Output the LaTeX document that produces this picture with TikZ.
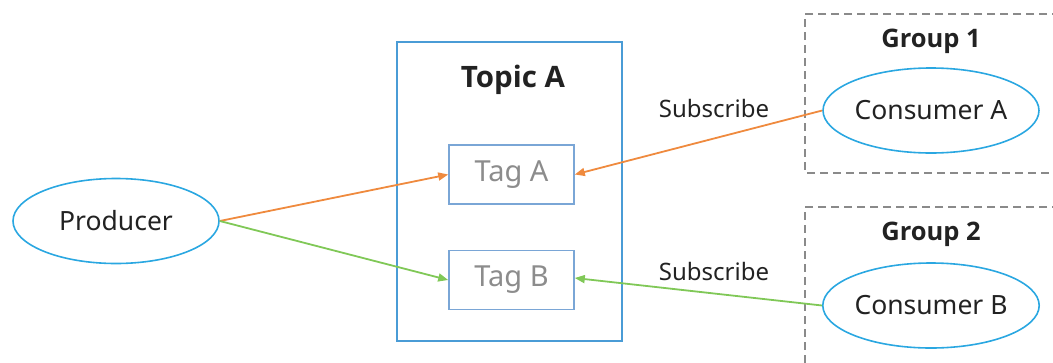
\documentclass[tikz,border=0pt]{standalone}
\usepackage{fontspec}
\setmainfont{Noto Sans}
\newfontfamily\titlefont{Open Sans}
\usetikzlibrary{shapes.geometric,arrows.meta}
\definecolor{ellblue}{HTML}{2AA7E1}
\definecolor{boxblue}{HTML}{4A9CD6}
\definecolor{tagblue}{HTML}{7AA6D6}
\definecolor{arrorange}{HTML}{EF8A3E}
\definecolor{arrgreen}{HTML}{80C857}
\definecolor{dashgray}{HTML}{8A8A8A}
\definecolor{taggray}{HTML}{8C8C8C}
\definecolor{txt}{HTML}{222222}
\begin{document}
\begin{tikzpicture}[x=1pt,y=-1pt,
  ell/.style={ellipse,draw=ellblue,line width=1.6pt,minimum width=206pt,minimum height=85pt,inner sep=0pt,font=\fontsize{26.5}{30}\selectfont,text=txt},
  tagbox/.style={draw=tagblue,line width=1.6pt,minimum width=125pt,minimum height=59pt,inner sep=0pt,font=\fontsize{29}{32}\selectfont,text=taggray},
  title/.style={font=\titlefont\bfseries\fontsize{25.5}{28}\selectfont,text=txt},
  bigtitle/.style={font=\titlefont\bfseries\fontsize{29.5}{32}\selectfont,text=txt},
  sublabel/.style={font=\fontsize{24}{27}\selectfont,text=txt},
  grp/.style={draw=dashgray,line width=1.5pt,dash pattern=on 8pt off 5pt},
  arr/.style={line width=1.8pt,-{Triangle[length=10pt,width=8pt]}}
]
\useasboundingbox (0,0) rectangle (1053,362);
% topic box
\node[draw=boxblue,line width=1.6pt,minimum width=225pt,minimum height=299pt,inner sep=0pt] (topic) at (509.5,191.5) {};
\node[bigtitle] (topictitle) at (513,80) {Topic A};
\node[tagbox] (taga) at (511.5,174.5) {Tag A};
\node[tagbox] (tagb) at (511.5,280) {Tag B};
% groups
\draw[grp] (1060,14) -- (805,14) -- (805,173) -- (1060,173);
\draw[grp] (1060,207) -- (805,207) -- (805,370);
\node[title] (g1) at (931,41) {Group 1};
\node[title] (g2) at (931,234) {Group 2};
% ellipses
\node[ell] (prod) at (116,221) {Producer};
\node[ell] (consa) at (931,110.5) {Consumer A};
\node[ell] (consb) at (931,305.5) {Consumer B};
% labels
\node[sublabel] (sub1) at (714,108) {Subscribe};
\node[sublabel] (sub2) at (714,271) {Subscribe};
% arrows
\draw[arr,arrorange] (prod.east) -- (taga.west);
\draw[arr,arrgreen] (prod.east) -- (tagb.west);
\draw[arr,arrorange] (consa.west) -- (taga.east);
\draw[arr,arrgreen] (consb.west) -- ([yshift=2pt]tagb.east);
\end{tikzpicture}
\end{document}
